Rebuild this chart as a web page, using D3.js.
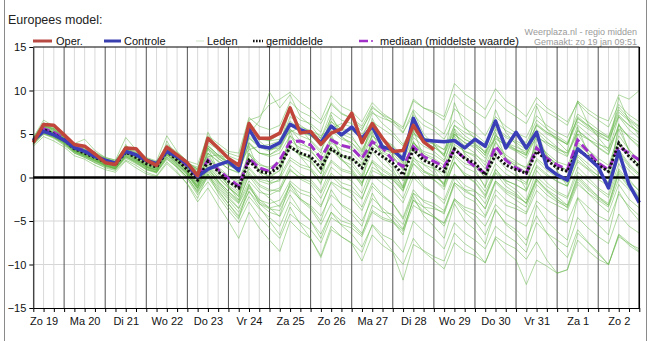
<!DOCTYPE html>
<html><head><meta charset="utf-8">
<script src="https://cdn.jsdelivr.net/npm/d3@7"></script>
<style>
body{margin:0;background:#fff;}
svg{display:block;font-family:"Liberation Sans",Arial,sans-serif;}
</style></head><body>
<svg id="c" width="652" height="341"></svg>
<script>
// 6-hourly steps from Zo 19 06:00 to Ma 3 00:00 (60 points)
const dayLabels = ["Zo 19","Ma 20","Di 21","Wo 22","Do 23","Vr 24","Za 25","Zo 26","Ma 27","Di 28","Wo 29","Do 30","Vr 31","Za 1","Zo 2"];
const yTicks = [15,10,5,0,-5,-10,-15];

const oper = [4.0,6.1,6.0,4.9,3.8,3.6,2.7,1.7,1.5,3.4,3.3,2.0,1.4,3.5,2.6,1.7,
  0.2,4.5,3.4,2.2,1.4,6.2,4.5,4.5,5.1,8.0,5.1,5.3,3.8,5.1,5.6,7.4,
  4.0,6.2,4.5,3.0,3.1,6.0,4.1,3.2];
const controle = [4.3,5.3,4.9,4.3,3.4,3.0,2.4,2.0,1.65,3.0,2.6,2.0,1.6,3.0,2.4,1.5,
  0.1,0.95,1.45,1.85,0.8,5.6,3.6,3.4,4.0,6.1,5.5,5.1,4.0,5.9,4.9,5.8,
  4.5,5.9,3.5,3.2,2.1,6.8,4.3,4.2,4.1,4.25,3.4,4.4,3.6,6.5,3.4,5.2,
  3.4,5.2,1.2,0.3,-0.3,3.3,2.3,1.2,-1.2,3.0,-0.8,-2.9];
const gemiddelde = [4.2,5.5,5.0,4.3,3.3,2.8,2.3,1.8,1.5,2.9,2.3,1.6,1.2,3.0,2.0,0.9,
  -0.3,1.85,0.7,-0.45,-1.2,1.95,0.7,0.5,1.25,3.5,2.8,2.4,1.1,3.25,2.5,2.2,
  1.1,3.25,2.4,1.65,0.3,3.2,2.0,1.45,0.7,3.25,2.2,1.65,0.3,2.6,1.45,0.9,
  0.5,3.0,2.0,1.1,0.7,3.2,2.4,1.45,0.7,3.95,2.4,1.25];
const mediaan = [4.2,5.6,5.2,4.5,3.5,3.1,2.5,2.0,1.6,3.1,2.6,1.9,1.4,3.1,2.4,1.3,
  0.0,2.0,0.9,-0.1,-1.0,2.2,1.1,0.7,2.0,4.1,4.2,3.75,2.2,4.3,3.7,3.4,
  2.2,4.1,3.4,2.0,1.25,3.55,2.4,1.85,1.25,3.25,2.2,1.25,0.5,3.6,2.0,1.1,
  0.5,3.4,2.2,1.45,0.9,4.3,3.0,1.65,0.9,3.55,2.8,2.0];

const leden = [
 [4.6,6.3,5.8,4.9,3.9,3.5,2.9,2.3,2.0,3.6,3.0,2.2,1.8,3.8,2.9,1.9, 1.5,4.8,3.9,3.0,2.8,6.9,5.9,5.5,6.0,8.7,7.6,7.0,6.2,8.4,7.3,6.8, 5.9,8.2,7.1,6.2,5.1,7.8,6.6,5.9,5.0,7.9,6.9,6.0,4.8,7.0,5.9,5.1, 4.6,7.1,6.0,5.2,4.6,7.3,6.4,5.5,4.7,8.1,6.8,5.9],
 [3.8,5.0,4.5,3.7,2.8,2.3,1.7,1.2,0.9,2.2,1.6,0.9,0.5,2.1,1.2,0.0, -1.6,0.2,-1.2,-2.6,-4.0,-1.6,-3.0,-3.6,-3.8,-1.4,-2.5,-3.2,-4.4,-2.0,-3.1,-3.8, -5.0,-2.4,-3.5,-4.5,-5.9,-2.6,-3.9,-4.6,-5.3,-2.4,-3.7,-4.3,-5.6,-3.1,-4.2,-4.9, -5.6,-2.7,-3.7,-4.6,-5.2,-2.3,-3.4,-4.4,-5.0,-1.9,-3.3,-4.4],
 [4.0,5.3,4.8,4.0,3.1,2.6,2.0,1.5,1.1,2.5,1.9,1.2,0.8,2.6,1.5,0.4, -1.0,1.0,-0.5,-2.0,-3.0,-0.8,-2.5,-3.5,-4.5,-2.0,-3.8,-5.0,-6.5,-4.0,-5.5,-6.5, -8.0,-5.5,-7.0,-8.5,-10.0,-7.0,-8.5,-9.5,-10.5,-7.5,-8.5,-9.0,-9.8,-7.0,-8.5,-9.5, -12.3,-9.5,-10.2,-11.0,-10.6,-6.4,-7.5,-8.8,-10.0,-6.5,-7.5,-8.5],
 [4.4,6.0,5.5,4.7,3.6,3.2,2.6,2.0,1.7,3.3,2.7,1.9,1.5,3.3,2.4,1.4, 0.6,3.6,2.6,1.8,1.2,5.0,6.5,9.8,8.0,9.5,7.0,6.0,4.5,6.8,5.5,4.8, 3.0,5.8,4.5,3.5,2.2,5.5,4.0,3.5,2.5,6.0,4.8,4.0,2.8,5.5,4.0,3.2, 2.5,5.5,4.5,3.5,2.5,6.0,5.0,4.0,3.0,7.0,5.5,4.5],
 [4.1,5.4,4.9,4.1,3.2,2.7,2.1,1.6,1.3,2.8,2.1,1.4,1.0,2.9,1.8,0.7, -0.6,1.5,0.3,-0.9,-1.8,1.2,-0.2,-0.5,0.2,2.3,1.5,1.1,-0.2,2.0,1.0,0.6, -0.6,1.8,0.8,0.0,-1.4,1.6,0.3,-0.3,-1.1,1.7,0.5,-0.1,-1.6,0.9,-0.3,-0.9, -1.5,1.4,0.4,-0.5,-1.0,1.8,0.9,-0.2,-1.0,2.2,0.8,-0.3],
 [4.3,5.8,5.3,4.5,3.5,3.0,2.5,1.9,1.6,3.1,2.5,1.8,1.4,3.2,2.2,1.1, 0.3,2.8,1.9,1.0,0.5,4.0,2.8,2.6,3.2,5.5,4.8,4.3,3.1,5.4,4.4,4.0, 2.9,5.3,4.4,3.7,2.4,5.2,4.0,3.5,2.7,5.6,4.4,3.8,2.5,4.9,3.7,3.1, 2.6,5.2,4.1,3.2,2.8,5.4,4.5,3.5,2.7,6.1,4.6,3.4],
 [3.9,5.1,4.6,3.9,2.9,2.4,1.9,1.4,1.0,2.4,1.8,1.1,0.7,2.4,1.4,0.2, -1.2,0.6,-0.6,-1.8,-2.9,-0.4,-1.7,-2.0,-1.4,0.8,0.0,-0.5,-1.8,0.5,-0.6,-1.0, -2.4,0.3,-0.7,-1.5,-2.9,0.0,-1.2,-1.8,-2.6,0.4,-0.9,-1.5,-3.0,-0.4,-1.6,-2.2, -2.9,0.1,-1.0,-1.8,-2.4,0.6,-0.4,-1.4,-2.3,1.0,-0.5,-1.5],
 [4.5,6.1,5.6,4.6,3.7,3.3,2.7,2.1,1.8,3.5,2.8,2.1,1.6,3.6,2.5,1.5, 0.8,3.8,2.5,1.5,0.8,4.5,3.5,3.0,3.8,7.0,6.0,5.2,4.0,6.5,5.0,4.5, 3.2,5.5,3.8,2.5,0.8,3.2,1.5,0.5,-0.8,1.8,0.3,-0.5,-2.0,0.5,-1.0,-1.8, -3.0,-0.2,-1.5,-2.5,-3.5,-0.5,-1.8,-3.0,-4.0,-0.8,-2.5,-3.5],
 [3.9,5.2,4.7,4.0,3.0,2.5,2.0,1.4,1.1,2.6,2.0,1.2,0.9,2.7,1.6,0.4, -1.3,0.8,-0.8,-2.2,-3.5,-1.0,-2.8,-3.5,-3.2,-0.8,-1.8,-2.2,-3.4,-0.5,-1.2,-1.5, -2.5,0.8,0.2,-0.3,-1.5,2.2,1.5,1.0,0.5,3.8,3.0,2.6,1.8,4.8,4.0,3.5, 3.0,6.0,5.2,4.5,3.8,6.8,6.0,5.2,4.5,7.5,6.5,5.5],
 [4.2,5.9,5.1,4.2,3.2,3.0,2.2,1.6,1.2,3.4,2.2,1.3,0.8,3.6,2.0,0.6, -1.0,2.8,0.6,-1.0,-2.2,2.8,0.8,0.0,0.8,4.8,3.0,2.0,0.4,4.5,2.6,1.8, 0.2,4.4,2.6,1.4,-0.4,4.2,2.2,1.2,0.0,4.8,2.8,1.8,0.2,4.2,2.3,1.2, 0.4,4.4,2.6,1.4,0.6,5.0,3.2,1.8,0.6,5.5,3.2,1.8],
 [4.0,5.2,4.8,4.1,3.0,2.5,1.9,1.3,1.0,2.3,1.7,0.9,0.6,2.2,1.1,-0.2, -2.0,-0.5,-2.2,-3.8,-5.2,-2.8,-4.5,-5.8,-7.0,-4.2,-5.2,-6.0,-7.5,-4.6,-5.4,-5.8, -6.8,-4.0,-4.8,-5.2,-6.2,-3.2,-4.0,-4.5,-5.2,-2.5,-3.4,-3.8,-4.6,-2.0,-3.2,-3.6, -4.2,-1.5,-2.6,-3.2,-3.8,-0.8,-1.8,-2.6,-3.4,-0.2,-1.4,-2.2],
 [4.5,6.2,5.7,4.8,3.8,3.4,2.8,2.2,1.9,3.6,2.9,2.2,1.7,3.5,2.6,1.7, 1.0,4.0,3.2,2.5,2.0,5.5,4.6,4.2,4.4,6.5,5.5,5.2,4.5,7.5,6.6,6.2, 5.4,8.0,7.2,6.6,5.8,9.0,8.0,7.4,6.6,9.6,8.4,7.6,6.8,9.0,7.8,7.0, 6.2,8.5,7.5,6.8,6.0,8.8,7.8,7.0,6.5,9.5,9.0,10.0],
 [4.2,5.6,5.1,4.4,3.4,2.9,2.4,1.8,1.5,3.0,2.4,1.7,1.3,3.1,2.1,1.0, -0.2,2.2,1.0,0.0,-0.6,2.6,1.4,1.2,1.8,4.2,3.4,3.0,1.8,4.0,3.2,2.8, 1.6,4.0,3.0,2.4,1.0,4.0,2.8,2.2,1.4,4.2,3.0,2.4,1.0,3.4,2.2,1.6, 1.2,3.8,2.8,1.8,1.4,4.0,3.2,2.2,1.4,4.8,3.2,2.0],
 [3.9,5.2,4.7,4.0,3.0,2.6,2.0,1.4,1.1,2.5,1.9,1.2,0.8,2.6,1.5,0.3, -1.4,0.4,-1.0,-2.4,-3.6,-1.2,-2.6,-3.0,-2.6,-0.4,-1.4,-1.8,-3.2,-0.6,-1.8,-2.4, -3.8,-1.0,-2.2,-3.0,-4.6,-1.4,-2.8,-3.4,-4.2,-0.8,-2.2,-2.8,-4.4,-1.4,-2.6,-3.2, -4.0,-0.8,-2.0,-2.8,-3.4,-0.2,-1.4,-2.4,-3.2,0.6,-1.0,-2.2],
 [4.3,5.7,5.2,4.3,3.4,2.9,2.4,1.9,1.5,3.1,2.4,1.7,1.3,3.2,2.2,1.2, 0.4,3.2,2.2,1.4,1.0,4.6,3.6,3.4,4.0,6.2,5.4,4.8,3.6,5.8,4.6,4.0, 2.6,4.8,3.6,2.8,1.4,4.0,2.6,2.0,1.0,3.6,2.2,1.4,0.0,2.4,1.0,0.2, -0.6,2.0,0.8,0.0,-0.6,2.4,1.2,0.2,-0.6,3.0,1.4,0.4],
 [3.8,5.0,4.6,3.8,2.8,2.3,1.7,1.1,0.8,2.0,1.4,0.6,0.2,1.8,0.7,-0.8, -2.8,-1.2,-3.2,-5.0,-7.0,-4.0,-5.8,-7.2,-8.5,-5.0,-6.2,-7.0,-9.2,-6.0,-6.8,-7.5, -8.6,-5.4,-6.6,-7.2,-8.6,-5.0,-6.2,-7.0,-8.2,-5.2,-6.4,-7.2,-8.2,-5.6,-6.6,-7.4, -8.6,-5.2,-6.4,-7.2,-8.0,-4.6,-5.8,-6.8,-7.6,-4.2,-5.6,-6.4],
 [4.2,5.5,5.0,4.3,3.3,2.8,2.3,1.7,1.4,2.9,2.3,1.6,1.2,3.0,2.0,0.9, -0.4,1.8,0.6,-0.5,-1.2,1.9,0.8,0.6,1.2,3.4,2.6,2.2,1.0,3.2,2.4,2.1, 1.2,3.6,2.8,2.2,1.0,4.0,3.0,2.6,1.8,5.0,4.0,3.6,2.6,5.6,4.6,4.0, 3.2,6.2,5.2,4.6,3.8,7.0,6.0,5.2,4.6,7.8,6.6,5.8],
 [4.0,5.3,4.8,4.1,3.1,2.5,2.0,1.5,1.2,2.6,2.0,1.3,0.9,2.7,1.6,0.5, -1.2,1.2,-0.4,-1.6,-2.6,0.2,-1.4,-2.4,-3.4,-1.0,-2.6,-3.6,-5.4,-3.0,-4.4,-5.2, -6.4,-3.8,-4.6,-5.0,-6.0,-2.6,-3.4,-3.6,-4.0,-0.6,-1.4,-1.6,-2.4,0.6,-0.4,-0.8, -1.6,1.2,0.2,-0.4,-1.0,2.0,1.0,0.2,-0.6,2.8,1.2,0.2],
 [4.4,5.9,5.4,4.6,3.6,3.1,2.6,2.0,1.7,3.2,2.6,1.9,1.5,3.3,2.3,1.3, 0.6,3.4,2.4,1.8,1.4,5.4,4.4,4.2,5.0,7.6,6.6,6.2,5.2,8.6,7.4,6.8, 5.6,7.6,6.2,5.2,3.8,6.0,4.6,3.8,2.6,5.0,3.6,2.8,1.4,4.0,2.6,1.8, 1.0,3.6,2.4,1.4,0.8,3.6,2.4,1.4,0.6,4.0,2.6,1.4],
 [4.1,5.4,4.9,4.2,3.2,2.7,2.2,1.6,1.3,2.8,2.2,1.5,1.1,2.9,1.9,0.7, -0.8,1.2,0.0,-1.2,-2.0,1.0,-0.4,-0.8,-0.2,2.0,1.2,0.8,-0.6,1.8,0.8,0.4, -0.8,2.0,1.0,0.2,-1.2,2.0,0.8,0.2,-0.6,2.4,1.2,0.6,-1.0,1.6,0.4,-0.2, -0.8,2.2,1.2,0.2,-0.4,2.6,1.6,0.6,-0.2,3.2,1.6,0.4],
 [4.1,5.4,4.9,4.2,3.2,2.7,2.2,1.6,1.3,2.8,2.1,1.4,1.0,2.8,1.8,0.6, -0.8,1.4,0.0,-1.2,-2.2,0.6,-0.8,-1.4,-1.6,1.0,-0.2,-0.8,-2.4,0.2,-1.0,-1.8, -3.4,-0.6,-2.0,-3.0,-4.8,-1.8,-3.4,-4.4,-5.6,-2.6,-4.0,-5.0,-6.6,-3.8,-5.2,-6.0, -7.2,-4.4,-6.4,-8.0,-9.2,-6.0,-7.4,-8.6,-10.0,-6.6,-7.8,-8.6],
 [4.4,6.0,5.5,4.6,3.6,3.1,2.6,2.0,1.6,3.3,2.6,1.9,1.5,3.4,2.4,1.4, 0.5,3.6,2.6,1.6,1.0,4.8,3.8,3.2,3.4,5.6,4.2,3.2,1.6,3.6,2.0,1.0, -0.6,1.8,0.2,-0.8,-2.4,0.6,-1.0,-1.8,-3.0,0.0,-1.4,-2.2,-3.6,-0.6,-1.8,-2.6, -3.4,-0.4,-1.6,-2.6,-3.2,0.2,-1.0,-2.2,-3.0,0.8,-0.8,-2.0],
 [4.3,5.7,5.2,4.4,3.5,3.0,2.5,1.9,1.6,3.1,2.5,1.8,1.4,3.2,2.2,1.2, 0.2,2.8,1.8,1.0,0.6,3.8,2.8,2.6,3.4,6.0,5.2,4.8,3.8,6.4,5.6,5.4, 4.6,7.4,6.8,6.4,5.6,8.8,8.0,7.6,7.0,10.8,9.6,8.8,7.8,10.2,8.8,8.0, 7.0,9.2,8.0,7.2,6.4,8.6,7.4,6.6,5.8,8.4,7.2,6.4],
 [4.0,5.3,4.8,4.1,3.1,2.6,2.1,1.5,1.2,2.7,2.0,1.3,0.9,2.7,1.7,0.5, -1.0,1.0,-0.4,-1.6,-2.8,0.4,-1.0,-1.6,-1.2,1.4,0.4,-0.2,-1.6,1.2,0.2,-0.4, -1.8,1.2,0.4,-0.2,-1.6,1.6,0.6,0.2,-0.8,2.6,1.6,1.2,0.0,3.0,2.0,1.4, 0.6,3.4,2.4,1.6,0.8,3.8,2.8,1.8,1.0,4.2,2.4,1.0],
 [3.9,5.1,4.6,3.9,2.9,2.4,1.8,1.3,1.0,2.4,1.7,1.0,0.6,2.3,1.2,0.0, -1.8,0.0,-1.6,-3.0,-4.6,-2.2,-3.6,-4.6,-5.6,-2.8,-4.0,-5.0,-7.0,-4.0,-5.0,-5.4, -6.6,-3.2,-4.0,-4.2,-5.4,-1.8,-2.6,-3.0,-3.8,-0.6,-1.6,-2.2,-3.6,-0.4,-1.4,-2.0, -3.0,-0.2,-1.4,-2.2,-3.2,0.0,-1.2,-2.2,-3.2,0.4,-1.2,-2.4],
 [4.4,5.9,5.4,4.6,3.6,3.1,2.6,2.1,1.8,3.4,2.7,2.0,1.6,3.4,2.5,1.5, 0.8,3.4,2.2,1.4,0.8,4.0,2.8,2.4,2.8,4.8,3.8,3.4,2.4,4.6,3.6,3.2, 2.0,4.8,3.8,3.0,1.8,4.6,3.6,3.0,2.0,5.0,4.0,3.4,2.2,4.6,3.6,3.0, 2.2,4.8,3.8,3.0,2.4,5.4,4.4,3.4,2.6,6.0,4.6,3.6],
 [4.6,6.6,5.9,4.8,3.9,4.4,3.1,2.3,2.0,4.6,3.2,2.3,1.9,4.8,3.0,1.8, 0.9,5.2,3.0,1.6,0.6,6.4,4.2,3.2,3.6,8.0,5.6,4.2,2.8,7.2,4.8,3.6, 2.2,6.8,4.4,3.2,1.6,7.6,5.0,3.8,2.4,8.6,5.8,4.4,2.8,7.8,5.2,3.8, 2.6,8.2,5.6,4.2,3.0,8.8,6.2,4.6,3.2,9.2,6.4,4.8],
 [3.6,4.7,4.2,3.5,2.5,2.1,1.4,0.9,0.6,1.9,1.1,0.4,0.1,1.6,0.5,-0.7, -2.4,0.4,-1.8,-3.4,-4.8,-0.8,-3.0,-4.0,-4.4,-0.6,-2.4,-3.4,-5.0,-1.4,-3.2,-4.2, -5.6,-1.8,-3.8,-5.0,-6.6,-2.2,-4.4,-5.6,-7.0,-3.0,-5.0,-6.0,-7.6,-3.6,-5.4,-6.4, -7.8,-3.2,-5.0,-6.2,-7.2,-2.4,-4.2,-5.4,-6.6,-1.6,-3.6,-5.0],
 [4.2,5.8,5.0,4.0,3.0,3.6,2.2,1.4,1.0,3.8,2.2,1.2,0.6,4.2,2.2,0.6, -1.2,3.4,0.8,-1.0,-2.6,3.6,0.6,-0.6,-0.4,5.4,2.4,1.0,-0.8,5.0,2.2,0.8, -1.0,5.2,2.4,1.0,-1.2,5.4,2.4,1.0,-1.0,5.6,2.6,1.0,-1.2,5.2,2.2,0.6, -1.4,5.4,2.4,0.8,-1.0,5.8,2.8,1.2,-0.8,6.2,3.0,1.2],
 [4.4,5.9,5.6,4.7,3.8,3.2,2.8,2.2,1.8,3.0,2.8,2.0,1.7,3.0,2.6,1.6, 1.2,2.4,2.6,2.2,1.6,3.2,3.6,3.8,4.2,5.2,5.8,5.4,4.8,5.6,6.2,5.8, 5.0,6.4,5.6,4.8,3.6,5.8,4.6,4.0,3.2,5.2,4.4,3.8,3.0,4.4,3.8,3.2, 2.8,4.6,4.0,3.4,2.8,5.0,4.4,3.8,3.4,5.6,4.8,4.0],
 [4.0,5.2,4.7,4.0,3.0,2.5,1.9,1.4,1.0,2.4,1.8,1.0,0.6,2.4,1.3,0.0, -1.6,0.4,-1.4,-3.0,-4.4,-1.6,-3.4,-5.0,-6.6,-3.4,-5.4,-7.0,-9.0,-5.6,-6.8,-7.6, -9.6,-6.6,-7.8,-8.6,-11.8,-7.7,-8.4,-9.1,-9.6,-6.4,-7.6,-8.4,-9.8,-6.8,-7.6,-8.2, -9.4,-7.4,-9.5,-11.0,-10.6,-7.2,-8.4,-9.4,-10.0,-6.8,-7.6,-8.2],
 [4.5,6.0,5.6,4.7,3.7,3.2,2.7,2.1,1.8,3.4,2.8,2.0,1.6,3.4,2.5,1.5, 1.0,4.4,3.4,2.8,2.4,6.6,7.0,8.4,9.0,9.8,8.6,7.8,6.6,9.4,8.2,7.6, 6.4,8.6,7.4,6.6,5.2,7.2,6.0,5.4,4.4,6.6,5.6,5.0,4.0,5.8,4.8,4.2, 3.6,6.0,5.0,4.4,3.8,6.4,5.6,4.8,4.2,7.0,6.0,5.2],
 [4.1,5.5,5.0,4.2,3.3,2.8,2.2,1.7,1.4,2.9,2.2,1.5,1.1,3.0,1.9,0.8, -0.6,2.0,0.6,-0.6,-1.6,2.2,0.6,0.2,0.8,3.6,2.4,1.8,0.4,3.2,2.0,1.4, 0.0,3.0,1.6,0.6,-1.0,2.4,0.8,-0.2,-1.4,1.8,0.2,-0.6,-2.2,1.0,-0.6,-1.4, -2.6,0.8,-0.6,-1.6,-2.2,1.2,0.0,-1.2,-2.0,1.6,-0.2,-1.6],
 [4.3,5.7,5.1,4.3,3.3,2.9,2.4,1.8,1.5,3.1,2.4,1.7,1.2,3.1,2.1,1.0, -0.1,2.4,1.2,0.2,-0.4,2.8,1.6,1.0,1.4,3.8,2.8,2.2,1.2,3.6,2.6,2.2, 1.4,4.0,3.2,2.8,2.2,5.0,4.2,3.8,3.2,6.0,5.2,4.6,3.6,6.4,5.4,4.8, 4.0,6.6,5.6,4.8,4.0,6.8,5.8,5.0,4.2,7.2,6.0,5.2]
];

const svg = d3.select("#c");
const W = 652, H = 341;
const x0 = 33.3, x1 = 639.3, yTop = 47, yBot = 308;
const nPts = 60;
const x = d3.scaleLinear().domain([0, nPts - 1]).range([x0, x1]);
const y = d3.scaleLinear().domain([-15, 15]).range([yBot, yTop]);

// panel side borders
svg.append("line").attr("x1",4.5).attr("x2",4.5).attr("y1",0).attr("y2",H).attr("stroke","#8a8a8a");
svg.append("line").attr("x1",646.5).attr("x2",646.5).attr("y1",0).attr("y2",H).attr("stroke","#8a8a8a");

// title
svg.append("text").attr("x",8).attr("y",24).attr("font-size",12.5).attr("fill","#222").text("Europees model:");

// top right credits
svg.append("text").attr("x",637).attr("y",35).attr("text-anchor","end").attr("font-size",9).attr("fill","#9a9a9a").text("Weerplaza.nl - regio midden");
svg.append("text").attr("x",637).attr("y",45).attr("text-anchor","end").attr("font-size",9).attr("fill","#9a9a9a").text("Gemaakt: zo 19 jan 09:51");

// legend
const lg = svg.append("g").attr("font-size",11).attr("fill","#111");
const legendY = 41;
lg.append("line").attr("x1",33).attr("x2",52).attr("y1",legendY).attr("y2",legendY).attr("stroke","#b84a44").attr("stroke-width",3);
lg.append("text").attr("x",56).attr("y",legendY+4).text("Oper.");
lg.append("line").attr("x1",104).attr("x2",121).attr("y1",legendY).attr("y2",legendY).attr("stroke","#3a3fb0").attr("stroke-width",3);
lg.append("text").attr("x",124).attr("y",legendY+4).text("Controle");
lg.append("line").attr("x1",196).attr("x2",204).attr("y1",legendY).attr("y2",legendY).attr("stroke","#cfe3c8").attr("stroke-width",1);
lg.append("text").attr("x",207).attr("y",legendY+4).text("Leden");
lg.append("line").attr("x1",253).attr("x2",263).attr("y1",legendY).attr("y2",legendY).attr("stroke","#111").attr("stroke-width",2.5).attr("stroke-dasharray","1.6,1.4");
lg.append("text").attr("x",266).attr("y",legendY+4).text("gemiddelde");
lg.append("line").attr("x1",359).attr("x2",368).attr("y1",legendY).attr("y2",legendY).attr("stroke","#a030c8").attr("stroke-width",2.5);
lg.append("line").attr("x1",371).attr("x2",373).attr("y1",legendY).attr("y2",legendY).attr("stroke","#a030c8").attr("stroke-width",1.5);
lg.append("text").attr("x",380).attr("y",legendY+4).text("mediaan (middelste waarde)");

// plot background grids
const g = svg.append("g");
g.selectAll("line.hg").data(yTicks.filter(d => d !== 0 && d !== 15 && d !== -15)).join("line")
  .attr("x1",x0).attr("x2",x1).attr("y1",d=>y(d)).attr("y2",d=>y(d))
  .attr("stroke","#d6d6d6").attr("stroke-width",1);
const idx = d3.range(nPts);
g.selectAll("line.vg").data(idx.filter(i => i % 4 !== 3)).join("line")
  .attr("x1",d=>x(d)).attr("x2",d=>x(d)).attr("y1",yTop).attr("y2",yBot)
  .attr("stroke","#d9d9d9").attr("stroke-width",1);
g.selectAll("line.dg").data(idx.filter(i => i % 4 === 3)).join("line")
  .attr("x1",d=>x(d)).attr("x2",d=>x(d)).attr("y1",yTop).attr("y2",yBot)
  .attr("stroke","#555").attr("stroke-width",1);

// lines
const line = d3.line().x((d,i)=>x(i)).y(d=>y(d));
svg.append("g").selectAll("path").data(leden).join("path")
  .attr("d", line).attr("fill","none")
  .attr("stroke","rgb(100,182,72)").attr("stroke-opacity",0.5).attr("stroke-width",1);

// zero line
svg.append("line").attr("x1",x0).attr("x2",x1).attr("y1",y(0)).attr("y2",y(0)).attr("stroke","#000").attr("stroke-width",2.5);

svg.append("path").attr("d", line(mediaan)).attr("fill","none")
  .attr("stroke","#a030c8").attr("stroke-width",3).attr("stroke-dasharray","9,4");
svg.append("path").attr("d", line(gemiddelde)).attr("fill","none")
  .attr("stroke","#111").attr("stroke-width",3).attr("stroke-dasharray","2.2,2");
svg.append("path").attr("d", line(controle)).attr("fill","none")
  .attr("stroke","#3a3fb8").attr("stroke-width",3.5).attr("stroke-linejoin","round");
svg.append("path").attr("d", line(oper)).attr("fill","none")
  .attr("stroke","#c0453a").attr("stroke-width",3.5).attr("stroke-linejoin","round");

// axes
const xAxis = d3.axisBottom(x).tickValues(idx).tickSize(4).tickSizeOuter(0)
  .tickFormat(i => (i % 4 === 1) ? dayLabels[(i - 1) / 4] : "");
const xa = svg.append("g").attr("transform",`translate(0,${yBot})`).call(xAxis);
xa.selectAll("text").attr("font-size",11).attr("fill","#111").attr("font-family","Liberation Sans, Arial, sans-serif").attr("dy","0.9em");
xa.select(".domain").attr("stroke","#000");

const yAxis = d3.axisLeft(y).tickValues(yTicks).tickSize(4).tickSizeOuter(0);
const ya = svg.append("g").attr("transform",`translate(${x0},0)`).call(yAxis);
ya.selectAll("text").attr("font-size",11).attr("fill","#111").attr("font-family","Liberation Sans, Arial, sans-serif");
ya.select(".domain").attr("stroke","#000");

// frame top and right
svg.append("line").attr("x1",x0).attr("x2",x1).attr("y1",yTop).attr("y2",yTop).attr("stroke","#000");
svg.append("line").attr("x1",x1).attr("x2",x1).attr("y1",yTop).attr("y2",yBot).attr("stroke","#000").attr("stroke-width",1.5);
</script>
</body></html>
